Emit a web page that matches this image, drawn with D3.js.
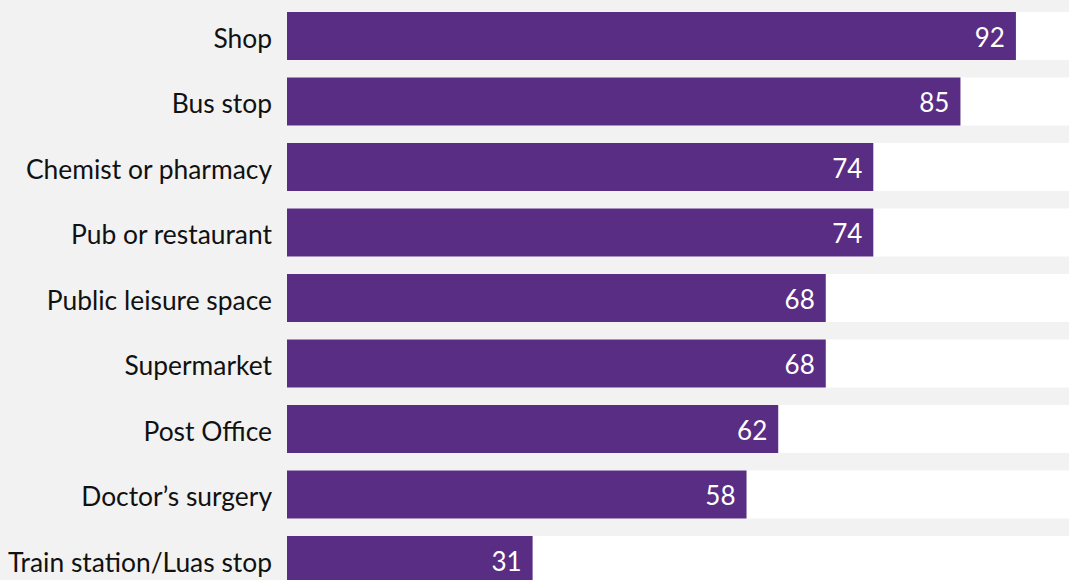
<!DOCTYPE html>
<html>
<head>
<meta charset="utf-8">
<script src="https://cdn.jsdelivr.net/npm/d3@7"></script>
<style>
html,body{margin:0;padding:0;background:#f2f2f2;}
svg{display:block;}
</style>
</head>
<body>
<svg id="chart" width="1069" height="580"></svg>
<script>
const categories = ["Shop","Bus stop","Chemist or pharmacy","Pub or restaurant","Public leisure space","Supermarket","Post Office","Doctor’s surgery","Train station/Luas stop"];
const values = [92,85,74,74,68,68,62,58,31];

const W = 1069, H = 580;
const svg = d3.select("#chart");
svg.append("rect").attr("width",W).attr("height",H).attr("fill","#f2f2f2");

const x = d3.scaleLinear().domain([0,100]).range([287, 1079.3]);
const y = d3.scaleBand().domain(categories).range([12, 12 + 8*65.5 + 48]).paddingInner(17.5/65.5).paddingOuter(0);

const data = categories.map((c,i)=>({c, v: values[i]}));

const g = svg.append("g");
// white track
g.selectAll("rect.track").data(data).enter().append("rect")
  .attr("class","track")
  .attr("x", x(0)).attr("y", d=>y(d.c))
  .attr("width", W - x(0)).attr("height", y.bandwidth())
  .attr("fill","#ffffff");
// bars
g.selectAll("rect.bar").data(data).enter().append("rect")
  .attr("class","bar")
  .attr("x", x(0)).attr("y", d=>y(d.c))
  .attr("width", d=>x(d.v)-x(0)).attr("height", y.bandwidth())
  .attr("fill","#5a2d84");
// value labels
g.selectAll("text.val").data(data).enter().append("text")
  .attr("class","val")
  .attr("x", d=>x(d.v)-11)
  .attr("y", d=>y(d.c)+y.bandwidth()/2)
  .attr("dy","0.41em")
  .attr("text-anchor","end")
  .attr("fill","#ffffff")
  .style("font-family","Lato, sans-serif")
  .style("font-size","26px")
  .text(d=>d.v);
// category labels
g.selectAll("text.cat").data(data).enter().append("text")
  .attr("class","cat")
  .attr("x", x(0)-15)
  .attr("y", d=>y(d.c)+y.bandwidth()/2)
  .attr("dy","0.44em")
  .attr("text-anchor","end")
  .attr("fill","#111111")
  .style("font-family","Lato, sans-serif")
  .style("font-size","26.4px")
  .text(d=>d.c);
</script>
</body>
</html>
